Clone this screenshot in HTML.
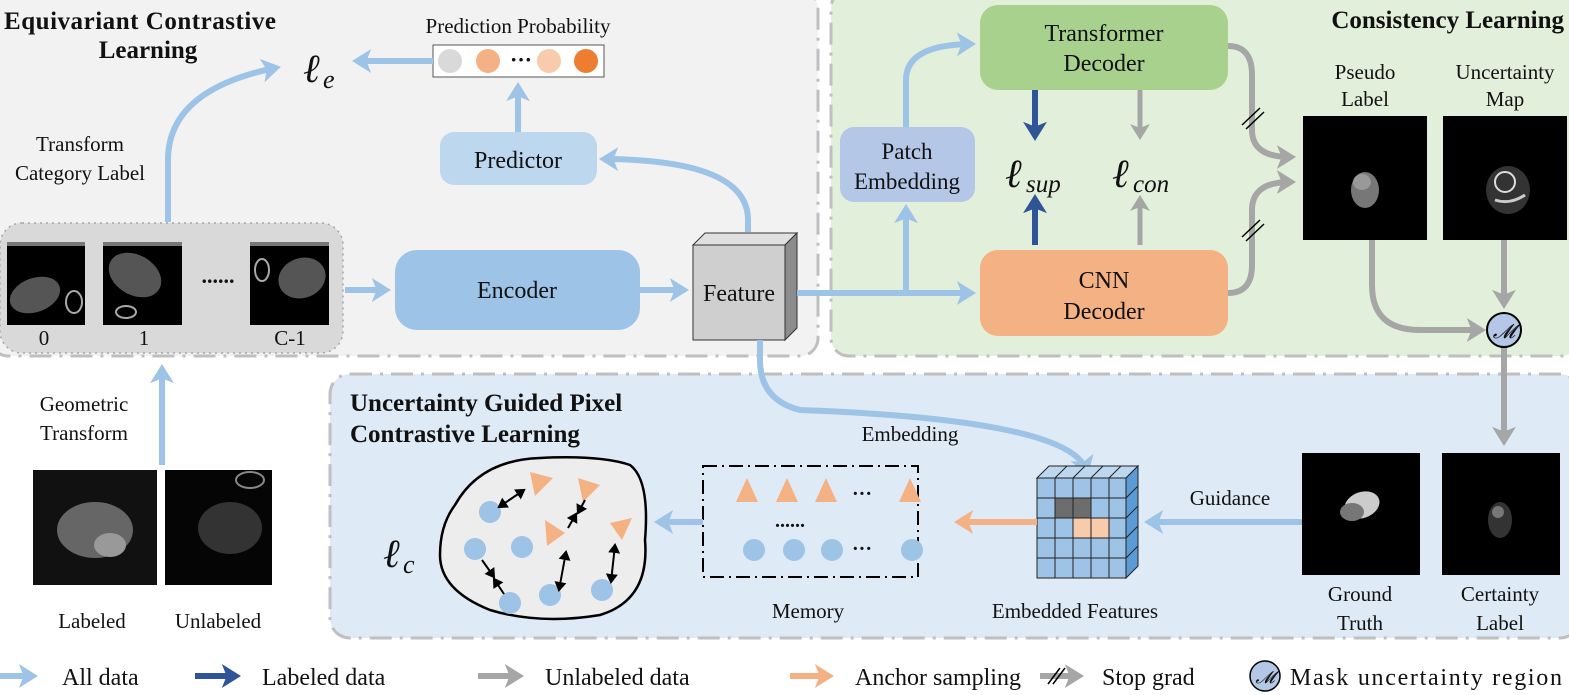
<!DOCTYPE html>
<html><head><meta charset="utf-8"><style>
body{margin:0;background:#fff}
svg{display:block}
text{font-family:"Liberation Serif",serif;fill:#111}
</style></head><body>
<svg width="1569" height="695" viewBox="0 0 1569 695" xmlns="http://www.w3.org/2000/svg">
<defs>
<marker id="ab" markerWidth="4" markerHeight="4" refX="2.2" refY="2" orient="auto" markerUnits="strokeWidth"><path d="M0,0 L3.2,2 L0,4 L0.8,2z" fill="#9dc3e6"/></marker>
<marker id="ad" markerWidth="4" markerHeight="4" refX="2.2" refY="2" orient="auto" markerUnits="strokeWidth"><path d="M0,0 L3.2,2 L0,4 L0.8,2z" fill="#2f5597"/></marker>
<marker id="ag" markerWidth="4" markerHeight="4" refX="2.2" refY="2" orient="auto" markerUnits="strokeWidth"><path d="M0,0 L3.2,2 L0,4 L0.8,2z" fill="#a6a6a6"/></marker>
<marker id="ao" markerWidth="4" markerHeight="4" refX="2.2" refY="2" orient="auto" markerUnits="strokeWidth"><path d="M0,0 L3.2,2 L0,4 L0.8,2z" fill="#f4b183"/></marker>
<marker id="bk" markerWidth="6" markerHeight="6" refX="4" refY="3" orient="auto-start-reverse" markerUnits="strokeWidth"><path d="M0,0 L5,3 L0,6z" fill="#000"/></marker>
</defs>
<!-- panels -->
<rect x="-10" y="-10" width="828" height="366" rx="18" fill="#f2f2f2" stroke="#bfbfbf" stroke-width="3" stroke-dasharray="22,8,3,8"/>
<rect x="831" y="-10" width="748" height="366" rx="18" fill="#e2efda" stroke="#bfbfbf" stroke-width="3" stroke-dasharray="22,8,3,8"/>
<rect x="330" y="374" width="1250" height="264" rx="20" fill="#deeaf6" stroke="#bfbfbf" stroke-width="3" stroke-dasharray="22,8,3,8"/>

<!-- titles -->
<text x="4" y="29" font-size="25" font-weight="bold" textLength="272">Equivariant Contrastive</text>
<text x="148" y="58" font-size="25" font-weight="bold" text-anchor="middle">Learning</text>
<text x="1564" y="28" font-size="25" font-weight="bold" text-anchor="end">Consistency Learning</text>
<text x="350" y="411" font-size="25" font-weight="bold">Uncertainty Guided Pixel</text>
<text x="350" y="442" font-size="25" font-weight="bold">Contrastive Learning</text>

<!-- left image group -->
<text x="80" y="151" font-size="21" text-anchor="middle">Transform</text>
<text x="80" y="180" font-size="21" text-anchor="middle">Category Label</text>
<path d="M168,222 V160 Q168,90 275,68" stroke="#9dc3e6" stroke-width="6" fill="none" marker-end="url(#ab)"/>
<text x="303" y="82" font-size="40" font-style="italic">ℓ</text><text x="323" y="88" font-size="26" font-style="italic">e</text>
<rect x="0" y="223" width="343" height="130" rx="22" fill="#d9d9d9" stroke="#a6a6a6" stroke-width="1.5" stroke-dasharray="2,4"/>
<rect x="7" y="242" width="78" height="83" fill="#000"/><rect x="7" y="242" width="78" height="4" fill="#777"/>
<ellipse cx="35" cy="295" rx="26" ry="17" fill="#555" transform="rotate(-20 35 295)"/><ellipse cx="74" cy="302" rx="8" ry="11" fill="none" stroke="#aaa" stroke-width="2"/>
<rect x="103" y="242" width="79" height="83" fill="#000"/><rect x="103" y="242" width="79" height="4" fill="#777"/>
<ellipse cx="135" cy="275" rx="28" ry="20" fill="#555" transform="rotate(30 135 275)"/><ellipse cx="126" cy="312" rx="10" ry="6" fill="none" stroke="#aaa" stroke-width="2"/>
<text x="218" y="283" font-size="22" text-anchor="middle" font-weight="bold">......</text>
<rect x="250" y="242" width="79" height="83" fill="#000"/><rect x="250" y="242" width="79" height="4" fill="#777"/>
<ellipse cx="302" cy="278" rx="24" ry="20" fill="#555" transform="rotate(-20 302 278)"/><ellipse cx="262" cy="270" rx="7" ry="11" fill="none" stroke="#aaa" stroke-width="2"/>
<text x="44" y="345" font-size="21" text-anchor="middle">0</text>
<text x="144" y="345" font-size="21" text-anchor="middle">1</text>
<text x="290" y="345" font-size="21" text-anchor="middle">C-1</text>
<path d="M345,290 H385" stroke="#9dc3e6" stroke-width="6" marker-end="url(#ab)"/>

<!-- geometric -->
<path d="M162,465 V370" stroke="#9dc3e6" stroke-width="6" marker-end="url(#ab)"/>
<text x="84" y="411" font-size="21" text-anchor="middle">Geometric</text>
<text x="84" y="440" font-size="21" text-anchor="middle">Transform</text>
<rect x="33" y="470" width="124" height="115" fill="#111"/><ellipse cx="95" cy="530" rx="38" ry="28" fill="#666"/><ellipse cx="110" cy="545" rx="16" ry="12" fill="#999"/>
<rect x="165" y="470" width="107" height="115" fill="#050505"/><ellipse cx="230" cy="528" rx="32" ry="26" fill="#333"/><ellipse cx="250" cy="480" rx="14" ry="8" fill="none" stroke="#888" stroke-width="2"/>
<text x="92" y="628" font-size="21" text-anchor="middle">Labeled</text>
<text x="218" y="628" font-size="21" text-anchor="middle">Unlabeled</text>

<!-- encoder -->
<rect x="395" y="250" width="245" height="80" rx="22" fill="#9dc3e6"/>
<text x="517" y="298" font-size="24" text-anchor="middle">Encoder</text>
<path d="M640,290 H683" stroke="#9dc3e6" stroke-width="6" marker-end="url(#ab)"/>

<!-- feature cube -->
<path d="M693,245 L705,233 L797,233 L785,245z" fill="#e0e0e0" stroke="#333" stroke-width="1"/>
<path d="M785,245 L797,233 L797,328 L785,340z" fill="#8c8c8c" stroke="#333" stroke-width="1"/>
<rect x="693" y="245" width="92" height="95" fill="#cfcfcf" stroke="#333" stroke-width="1"/>
<text x="739" y="301" font-size="24" text-anchor="middle">Feature</text>

<!-- predictor -->
<path d="M748,232 V220 Q748,160 605,159" stroke="#9dc3e6" stroke-width="6" fill="none" marker-end="url(#ab)"/>
<rect x="440" y="132" width="157" height="53" rx="14" fill="#bdd7ee"/>
<text x="518" y="168" font-size="24" text-anchor="middle">Predictor</text>
<path d="M518,132 V88" stroke="#9dc3e6" stroke-width="6" marker-end="url(#ab)"/>
<text x="518" y="33" font-size="21" text-anchor="middle">Prediction Probability</text>
<rect x="433" y="45" width="171" height="32" fill="#fff" stroke="#555" stroke-width="1"/>
<circle cx="450" cy="61" r="12" fill="#d9d9d9"/><circle cx="488" cy="61" r="12" fill="#f4b183"/>
<text x="521" y="67" font-size="22" font-weight="bold" text-anchor="middle">···</text>
<circle cx="549" cy="61" r="12" fill="#f8cbad"/><circle cx="586" cy="61" r="12" fill="#ed7d31"/>
<path d="M433,61 H358" stroke="#9dc3e6" stroke-width="6" marker-end="url(#ab)"/>

<!-- to CNN / patch -->
<path d="M797,293 H970" stroke="#9dc3e6" stroke-width="6" marker-end="url(#ab)"/>
<path d="M906,293 V210" stroke="#9dc3e6" stroke-width="6" marker-end="url(#ab)"/>
<path d="M906,127 V80 Q906,45 970,44" stroke="#9dc3e6" stroke-width="6" fill="none" marker-end="url(#ab)"/>
<rect x="840" y="127" width="135" height="75" rx="14" fill="#b4c7e7"/>
<text x="907" y="159" font-size="23" text-anchor="middle">Patch</text>
<text x="907" y="189" font-size="23" text-anchor="middle">Embedding</text>

<rect x="980" y="5" width="248" height="85" rx="18" fill="#a9d18e"/>
<text x="1104" y="41" font-size="24" text-anchor="middle">Transformer</text>
<text x="1104" y="71" font-size="24" text-anchor="middle">Decoder</text>
<rect x="980" y="250" width="248" height="86" rx="18" fill="#f4b183"/>
<text x="1104" y="288" font-size="24" text-anchor="middle">CNN</text>
<text x="1104" y="319" font-size="24" text-anchor="middle">Decoder</text>

<path d="M1035,90 V135" stroke="#2f5597" stroke-width="6" marker-end="url(#ad)"/>
<path d="M1035,245 V200" stroke="#2f5597" stroke-width="6" marker-end="url(#ad)"/>
<path d="M1140,90 V135" stroke="#a6a6a6" stroke-width="5" marker-end="url(#ag)"/>
<path d="M1140,245 V200" stroke="#a6a6a6" stroke-width="5" marker-end="url(#ag)"/>
<text x="1005" y="187" font-size="40" font-style="italic">ℓ</text><text x="1026" y="192" font-size="25" font-style="italic">sup</text>
<text x="1112" y="187" font-size="40" font-style="italic">ℓ</text><text x="1133" y="192" font-size="25" font-style="italic">con</text>

<!-- gray connectors -->
<path d="M1228,46 Q1252,46 1252,75 V130 Q1252,157 1290,157" stroke="#a6a6a6" stroke-width="6" fill="none" marker-end="url(#ag)"/>
<path d="M1228,293 Q1252,293 1252,265 V210 Q1252,182 1290,182" stroke="#a6a6a6" stroke-width="6" fill="none" marker-end="url(#ag)"/>
<path d="M1242,125 L1260,108 M1246,129 L1264,112" stroke="#000" stroke-width="1.5"/>
<path d="M1242,237 L1260,220 M1246,241 L1264,224" stroke="#000" stroke-width="1.5"/>

<text x="1365" y="79" font-size="21" text-anchor="middle">Pseudo</text>
<text x="1365" y="106" font-size="21" text-anchor="middle">Label</text>
<text x="1505" y="79" font-size="21" text-anchor="middle">Uncertainty</text>
<text x="1505" y="106" font-size="21" text-anchor="middle">Map</text>
<rect x="1303" y="116" width="124" height="124" fill="#000"/>
<ellipse cx="1365" cy="190" rx="14" ry="18" fill="#777"/><ellipse cx="1362" cy="182" rx="9" ry="8" fill="#999"/>
<rect x="1443" y="116" width="124" height="124" fill="#000"/>
<ellipse cx="1508" cy="190" rx="22" ry="24" fill="#333"/><circle cx="1505" cy="182" r="10" fill="none" stroke="#ddd" stroke-width="2"/><path d="M1495,200 Q1510,205 1525,195" stroke="#ccc" stroke-width="3" fill="none"/>
<path d="M1372,240 V285 Q1372,330 1420,330 H1480" stroke="#a6a6a6" stroke-width="6" fill="none" marker-end="url(#ag)"/>
<path d="M1504,240 V303" stroke="#a6a6a6" stroke-width="6" marker-end="url(#ag)"/>
<path d="M1504,347 V440" stroke="#a6a6a6" stroke-width="6" marker-end="url(#ag)"/>
<circle cx="1504" cy="330" r="17" fill="#b4c7e7" stroke="#000" stroke-width="2"/>
<text x="1504" y="338" font-size="20" font-style="italic" text-anchor="middle">𝓜</text>

<!-- bottom right -->
<rect x="1302" y="453" width="118" height="122" fill="#000"/>
<ellipse cx="1362" cy="505" rx="18" ry="13" fill="#ccc" transform="rotate(-20 1362 505)"/><ellipse cx="1352" cy="512" rx="12" ry="9" fill="#777"/>
<rect x="1442" y="453" width="118" height="122" fill="#000"/>
<ellipse cx="1500" cy="520" rx="12" ry="18" fill="#333"/><circle cx="1498" cy="512" r="6" fill="#777"/>
<text x="1360" y="601" font-size="21" text-anchor="middle">Ground</text>
<text x="1360" y="630" font-size="21" text-anchor="middle">Truth</text>
<text x="1500" y="601" font-size="21" text-anchor="middle">Certainty</text>
<text x="1500" y="630" font-size="21" text-anchor="middle">Label</text>
<path d="M1302,522 H1150" stroke="#9dc3e6" stroke-width="6" marker-end="url(#ab)"/>
<text x="1230" y="505" font-size="21" text-anchor="middle">Guidance</text>

<!-- embedded features cube -->
<path d="M760,340 V360 Q760,400 800,410 Q1070,420 1086,470" stroke="#9dc3e6" stroke-width="6" fill="none" marker-end="url(#ab)"/>
<text x="910" y="441" font-size="21" text-anchor="middle">Embedding</text>
<g stroke="#222" stroke-width="1">
<path d="M1037,478 L1049,466 L1138,466 L1126,478z" fill="#bdd7ee"/>
<path d="M1126,478 L1138,466 L1138,566 L1126,578z" fill="#5b9bd5"/>
<rect x="1037" y="478" width="89" height="100" fill="#9dc3e6"/>
<rect x="1055" y="498" width="36" height="20" fill="#6d6d6d"/>
<rect x="1073" y="518" width="36" height="20" fill="#f8cbad"/>
<path d="M1055,478 V578 M1073,478 V578 M1091,478 V578 M1109,478 V578 M1037,498 H1126 M1037,518 H1126 M1037,538 H1126 M1037,558 H1126"/>
<path d="M1055,478 L1067,466 M1073,478 L1085,466 M1091,478 L1103,466 M1109,478 L1121,466 M1126,498 L1138,486 M1126,518 L1138,506 M1126,538 L1138,526 M1126,558 L1138,546" fill="none"/>
</g>
<text x="1075" y="618" font-size="21" text-anchor="middle">Embedded Features</text>
<path d="M1037,522 H960" stroke="#f4b183" stroke-width="6" marker-end="url(#ao)"/>

<!-- memory -->
<rect x="703" y="466" width="215" height="111" fill="none" stroke="#000" stroke-width="2" stroke-dasharray="14,5,2,5"/>
<g fill="#f4b183"><path d="M736,502 L747,478 L758,502z"/><path d="M776,502 L787,478 L798,502z"/><path d="M815,502 L826,478 L837,502z"/><path d="M899,502 L910,478 L921,502z"/></g>
<text x="862" y="500" font-size="20" font-weight="bold" text-anchor="middle">···</text>
<text x="790" y="527" font-size="20" font-weight="bold" text-anchor="middle">......</text>
<g fill="#9dc3e6"><circle cx="754" cy="550" r="11"/><circle cx="794" cy="550" r="11"/><circle cx="832" cy="550" r="11"/><circle cx="912" cy="550" r="11"/></g>
<text x="862" y="555" font-size="20" font-weight="bold" text-anchor="middle">···</text>
<text x="808" y="618" font-size="21" text-anchor="middle">Memory</text>
<path d="M703,522 H660" stroke="#9dc3e6" stroke-width="6" marker-end="url(#ab)"/>

<!-- blob -->
<path d="M455,505 Q480,460 540,458 Q600,455 630,465 Q650,480 645,540 Q650,600 600,615 Q540,625 490,610 Q440,590 440,555 Q440,525 455,505z" fill="#ededed" stroke="#000" stroke-width="2.5"/>
<g fill="#9dc3e6"><circle cx="490" cy="512" r="11"/><circle cx="475" cy="549" r="11"/><circle cx="522" cy="547" r="11"/><circle cx="510" cy="603" r="11"/><circle cx="550" cy="595" r="11"/><circle cx="602" cy="590" r="11"/></g>
<g fill="#f4b183"><path d="M530,472 L553,478 L535,496z"/><path d="M578,478 L600,485 L583,502z"/><path d="M545,520 L565,533 L547,546z"/><path d="M610,523 L632,518 L622,540z"/></g>
<g stroke="#000" stroke-width="2" fill="none">
<path d="M499,507 L524,490" marker-start="url(#bk)" marker-end="url(#bk)"/>
<path d="M559,590 L566,552" marker-start="url(#bk)" marker-end="url(#bk)"/>
<path d="M611,582 L615,545" marker-start="url(#bk)" marker-end="url(#bk)"/>
<path d="M482,560 L494,577" marker-end="url(#bk)"/><path d="M504,594 L494,579" marker-end="url(#bk)"/>
<path d="M585,500 L578,513" marker-end="url(#bk)"/><path d="M568,528 L576,514" marker-end="url(#bk)"/>
</g>
<text x="383" y="567" font-size="40" font-style="italic">ℓ</text><text x="403" y="573" font-size="26" font-style="italic">c</text>

<!-- legend -->
<path d="M0,676 H32" stroke="#9dc3e6" stroke-width="6" marker-end="url(#ab)"/><text x="62" y="685" font-size="24">All data</text>
<path d="M195,676 H235" stroke="#2f5597" stroke-width="6" marker-end="url(#ad)"/><text x="262" y="685" font-size="24">Labeled data</text>
<path d="M478,676 H518" stroke="#a6a6a6" stroke-width="6" marker-end="url(#ag)"/><text x="545" y="685" font-size="24">Unlabeled data</text>
<path d="M790,676 H828" stroke="#f4b183" stroke-width="6" marker-end="url(#ao)"/><text x="855" y="685" font-size="24">Anchor sampling</text>
<path d="M1040,676 H1078" stroke="#a6a6a6" stroke-width="6" marker-end="url(#ag)"/><path d="M1048,684 L1060,668 M1053,684 L1065,668" stroke="#000" stroke-width="1.5"/><text x="1102" y="685" font-size="24">Stop grad</text>
<circle cx="1265" cy="676" r="15" fill="#b4c7e7" stroke="#000" stroke-width="1.5"/><text x="1265" y="683" font-size="17" font-style="italic" text-anchor="middle">𝓜</text>
<text x="1290" y="685" font-size="24" textLength="272">Mask uncertainty region</text>
</svg>
</body></html>
